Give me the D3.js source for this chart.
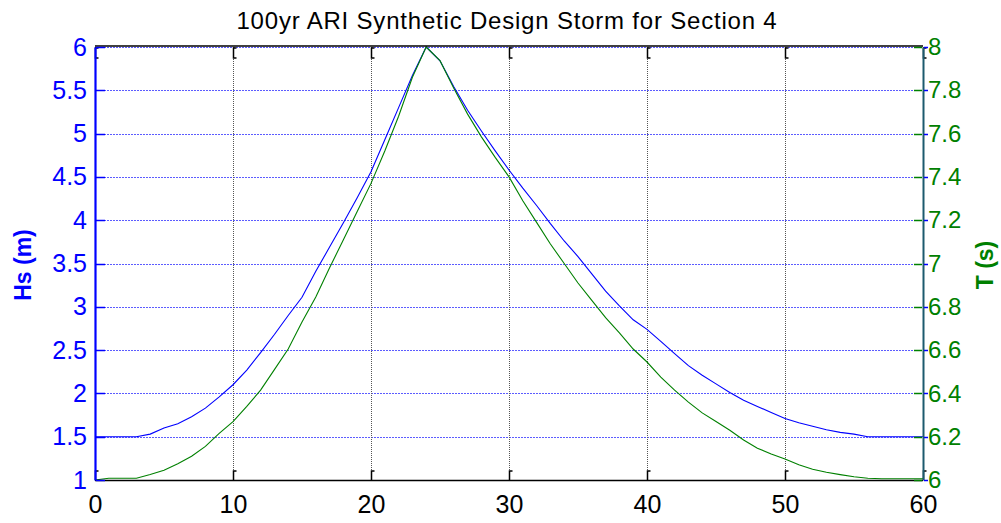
<!DOCTYPE html>
<html>
<head>
<meta charset="utf-8">
<script src="https://cdn.jsdelivr.net/npm/d3@7"></script>
<style>
  html, body { margin: 0; padding: 0; background: #fff; }
  svg { display: block; font-family: "Liberation Sans", Arial, sans-serif; }
</style>
</head>
<body>
<svg id="chart" width="1001" height="523"></svg>
<script>
// ---- data ----
const time = d3.range(0, 61); // hours 0..60
const hsValues = [1.5, 1.5, 1.5, 1.5, 1.53, 1.60, 1.65, 1.73, 1.83, 1.96,
  2.10, 2.27, 2.47, 2.68, 2.90, 3.11, 3.41, 3.69, 3.97, 4.26,
  4.56, 4.93, 5.30, 5.67, 6.00, 5.84, 5.54, 5.27, 5.03, 4.80,
  4.58, 4.37, 4.17, 3.96, 3.76, 3.58, 3.38, 3.18, 3.01, 2.85,
  2.74, 2.60, 2.46, 2.32, 2.21, 2.11, 2.01, 1.92, 1.85, 1.78,
  1.71, 1.66, 1.62, 1.58, 1.55, 1.53, 1.50, 1.5, 1.5, 1.5, 1.5];
const tValues = [6.0, 6.008, 6.008, 6.008, 6.025, 6.045, 6.075, 6.11, 6.155, 6.215,
  6.27, 6.34, 6.415, 6.51, 6.605, 6.73, 6.845, 6.98, 7.11, 7.24,
  7.37, 7.52, 7.68, 7.86, 8.0, 7.937, 7.81, 7.69, 7.585, 7.49,
  7.40, 7.29, 7.19, 7.09, 7.00, 6.91, 6.83, 6.75, 6.68, 6.605,
  6.545, 6.475, 6.415, 6.36, 6.31, 6.27, 6.23, 6.185, 6.147, 6.12,
  6.097, 6.07, 6.05, 6.036, 6.025, 6.015, 6.008, 6.006, 6.006, 6.006, 6.006];
const xTicks = [0, 10, 20, 30, 40, 50, 60];
const hsTicks = [1, 1.5, 2, 2.5, 3, 3.5, 4, 4.5, 5, 5.5, 6];
const tTicks = [6, 6.2, 6.4, 6.6, 6.8, 7, 7.2, 7.4, 7.6, 7.8, 8];
const titleText = "100yr ARI Synthetic Design Storm for Section 4";
const leftLabel = "Hs (m)";
const rightLabel = "T (s)";

// ---- layout ----
const L = 95, R = 923, T = 47, B = 480;
const BLUE = "#0000ff", GREEN = "#008000";

const svg = d3.select("#chart");
const x = d3.scaleLinear().domain([0, 60]).range([L, R]);
const yL = d3.scaleLinear().domain([1, 6]).range([B, T]);
const yR = d3.scaleLinear().domain([6, 8]).range([B, T]);

// grid: horizontal (blue dotted)
svg.append("g").selectAll("line").data(hsTicks.slice(1)).join("line")
  .attr("x1", L).attr("x2", R)
  .attr("y1", d => Math.round(yL(d)) + 0.5).attr("y2", d => Math.round(yL(d)) + 0.5)
  .attr("stroke", "#5c5cff").attr("stroke-width", 1)
  .attr("stroke-dasharray", "2,1");

// grid: vertical (gray dotted)
svg.append("g").selectAll("line").data(xTicks.slice(1, -1)).join("line")
  .attr("x1", d => Math.round(x(d)) + 0.5).attr("x2", d => Math.round(x(d)) + 0.5)
  .attr("y1", T).attr("y2", B)
  .attr("stroke", "#555").attr("stroke-width", 1)
  .attr("stroke-dasharray", "1,1");

// x tick marks (top and bottom, with small caps)
const xt = svg.append("g").attr("stroke", "#000").attr("stroke-width", 1.5).attr("fill", "none");
xTicks.forEach(d => {
  const px = Math.round(x(d)) + 0.5;
  xt.append("path").attr("d", `M${px + 3},${T + 1} H${px} V${T + 11} H${px + 3}`);
  xt.append("path").attr("d", `M${px + 3},${B - 9} H${px} V${B}`);
});

// lines
const lineHs = d3.line().x((d, i) => x(time[i])).y(d => yL(d));
const lineT = d3.line().x((d, i) => x(time[i])).y(d => yR(d));
svg.append("path").datum(hsValues).attr("d", lineHs)
  .attr("fill", "none").attr("stroke", BLUE).attr("stroke-width", 1.1);
svg.append("path").datum(tValues).attr("d", lineT)
  .attr("fill", "none").attr("stroke", GREEN).attr("stroke-width", 1.1);

// frame: top and bottom black
svg.append("line").attr("x1", L).attr("x2", R).attr("y1", T - 1).attr("y2", T - 1)
  .attr("stroke", "#000").attr("stroke-width", 1.5);
svg.append("line").attr("x1", L).attr("x2", R).attr("y1", B + 0.5).attr("y2", B + 0.5)
  .attr("stroke", "#000").attr("stroke-width", 1.5);

// left axis
const gL = svg.append("g").attr("transform", `translate(${L},0)`)
  .call(d3.axisLeft(yL).tickValues(hsTicks).tickFormat(d3.format("~g")).tickSize(0).tickPadding(8));
gL.select(".domain").attr("stroke", BLUE).attr("stroke-width", 2.2);
gL.selectAll("text").attr("fill", BLUE).attr("font-size", 25).attr("font-family", "Liberation Sans, Arial, sans-serif");
svg.append("g").selectAll("line").data(hsTicks).join("line")
  .attr("x1", L + 1).attr("x2", L + 10)
  .attr("y1", d => Math.round(yL(d)) + 0.5).attr("y2", d => Math.round(yL(d)) + 0.5)
  .attr("stroke", BLUE).attr("stroke-width", 1.5);

// right axis
const gR = svg.append("g").attr("transform", `translate(${R},0)`)
  .call(d3.axisRight(yR).tickValues(tTicks).tickFormat(d3.format("~g")).tickSize(0).tickPadding(5));
gR.select(".domain").attr("stroke", "#1c5a6e").attr("stroke-width", 2);
gR.selectAll("text").attr("fill", GREEN).attr("font-size", 24).attr("font-family", "Liberation Sans, Arial, sans-serif");
svg.append("g").selectAll("line").data(tTicks).join("line")
  .attr("x1", R - 9).attr("x2", R - 1)
  .attr("y1", d => Math.round(yR(d)) + 0.5).attr("y2", d => Math.round(yR(d)) + 0.5)
  .attr("stroke", GREEN).attr("stroke-width", 1.5);
svg.append("g").selectAll("line").data(hsTicks).join("line")
  .attr("x1", R + 1).attr("x2", R + 5)
  .attr("y1", d => Math.round(yL(d)) + 0.5).attr("y2", d => Math.round(yL(d)) + 0.5)
  .attr("stroke", BLUE).attr("stroke-width", 1.5);

// bottom axis
const gB = svg.append("g").attr("transform", `translate(0,${B})`)
  .call(d3.axisBottom(x).tickValues(xTicks).tickFormat(d3.format("d")).tickSize(0).tickPadding(15));
gB.select(".domain").remove();
gB.selectAll("text").attr("fill", "#000").attr("font-size", 25).attr("font-family", "Liberation Sans, Arial, sans-serif");

// title
svg.append("text").attr("x", (L + R) / 2 - 2).attr("y", 29)
  .attr("text-anchor", "middle").attr("font-size", 24).attr("letter-spacing", 0.8)
  .attr("fill", "#000")
  .text(titleText);

// axis labels
svg.append("text").attr("transform", `translate(31,265) rotate(-90)`)
  .attr("text-anchor", "middle").attr("font-size", 23).attr("font-weight", "bold")
  .attr("fill", BLUE).text(leftLabel);
svg.append("text").attr("transform", `translate(993,265) rotate(-90)`)
  .attr("text-anchor", "middle").attr("font-size", 23).attr("font-weight", "bold")
  .attr("fill", GREEN).text(rightLabel);
</script>
</body>
</html>
